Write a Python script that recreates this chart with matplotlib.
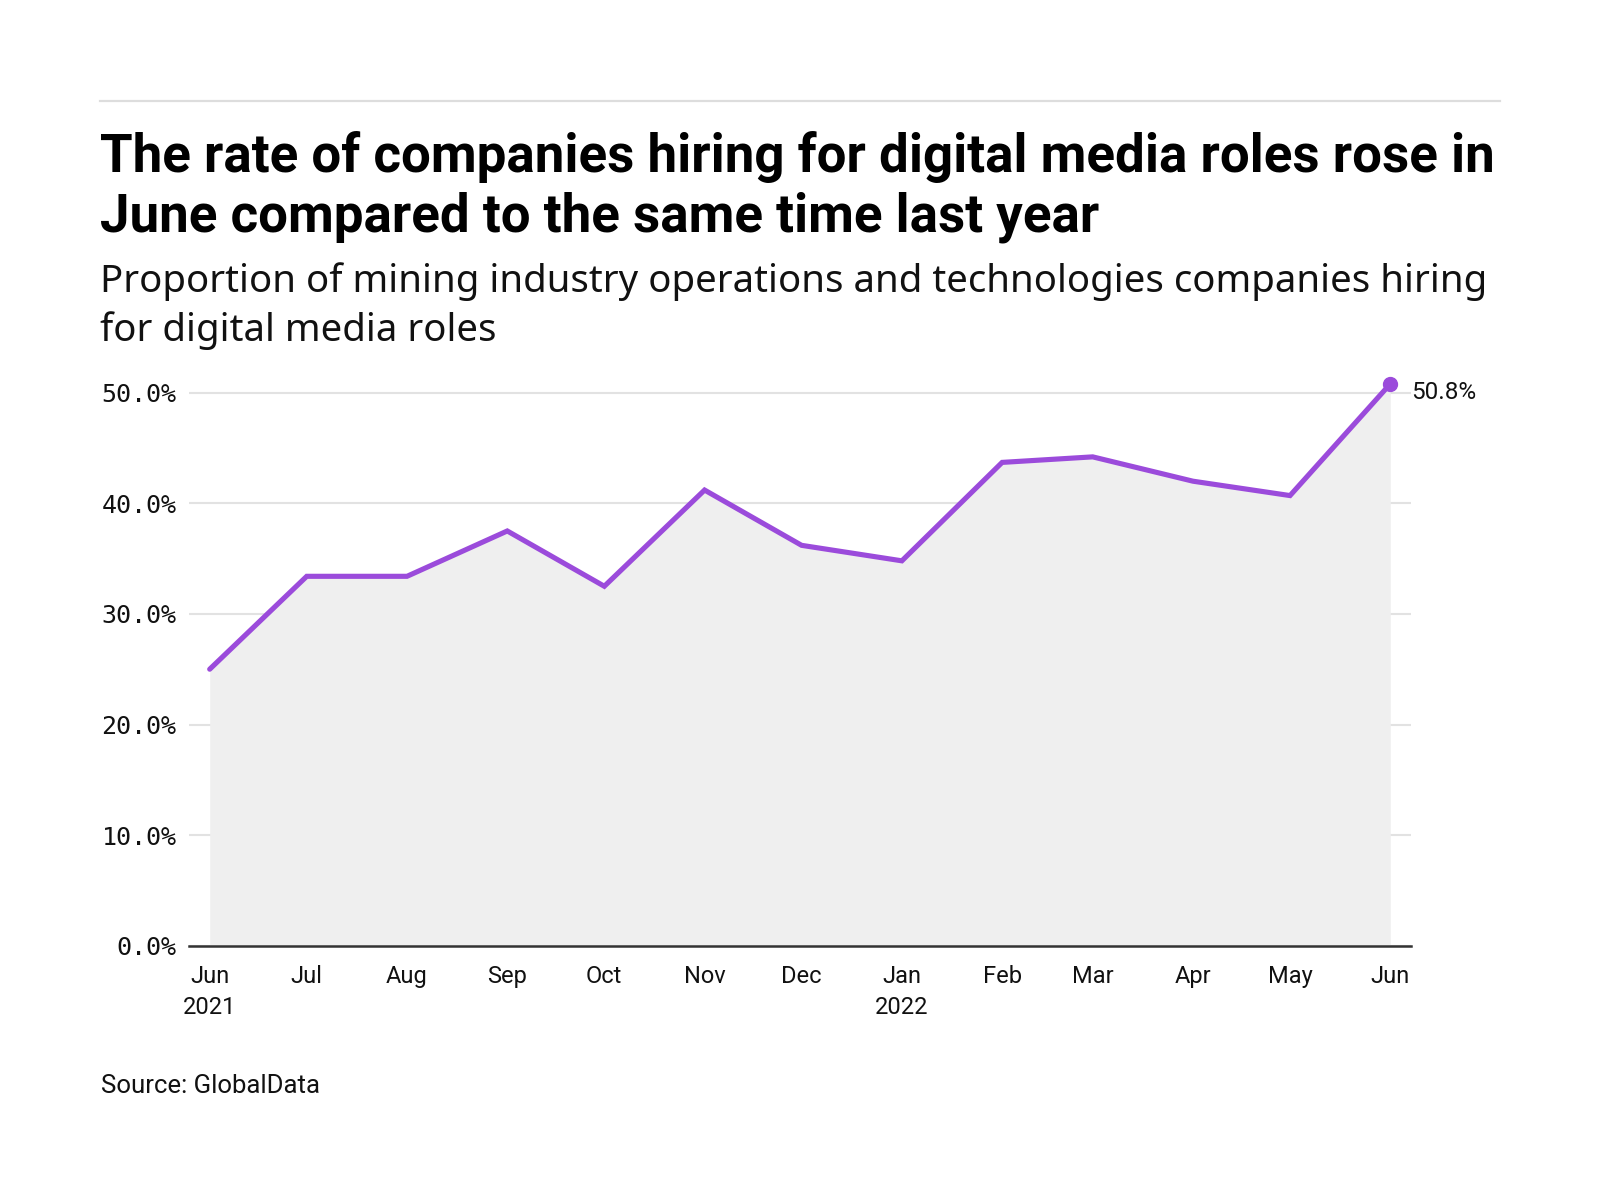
import numpy as np
import matplotlib
matplotlib.use("Agg")
import matplotlib.pyplot as plt
import matplotlib.dates as mdates
from matplotlib.lines import Line2D

# datos
months = np.array(['2021-06-01', '2021-07-01', '2021-08-01', '2021-09-01', '2021-10-01',
                   '2021-11-01', '2021-12-01', '2022-01-01', '2022-02-01', '2022-03-01',
                   '2022-04-01', '2022-05-01', '2022-06-01'], dtype='datetime64[D]')
share = [25.0, 33.4, 33.4, 37.5, 32.5, 41.2, 36.2, 34.8, 43.7, 44.2, 42.0, 40.7, 50.8]
tick_labels = ['Jun\n2021', 'Jul', 'Aug', 'Sep', 'Oct', 'Nov', 'Dec', 'Jan\n2022',
               'Feb', 'Mar', 'Apr', 'May', 'Jun']
y_ticks = [0, 10, 20, 30, 40, 50]

title_lines = ['The rate of companies hiring for digital media roles rose in',
               'June compared to the same time last year']
subtitle_lines = ['Proportion of mining industry operations and technologies companies hiring',
                  'for digital media roles']
source = 'Source: GlobalData'

purple = '#9b4bdb'
sans = ['Noto Sans', 'DejaVu Sans']
W, H = 1600, 1200

fig = plt.figure(figsize=(16, 12), dpi=100)
fig.patch.set_facecolor('white')

ax = fig.add_axes([189 / W, 1 - 945.7 / H, (1411 - 189) / W, (945.7 - 370.6) / H])
x = mdates.date2num(months)

ax.fill_between(x, 0, share, color='#efefef', lw=0, zorder=1)
ax.plot(x, share, color=purple, lw=3.7, solid_capstyle='round',
        solid_joinstyle='miter', zorder=3, clip_on=False)
ax.plot(x[-1], share[-1], 'o', color=purple, ms=10, zorder=4, clip_on=False)
ax.annotate(f'{share[-1]:.1f}%', (x[-1], share[-1]), xytext=(15, -6),
            textcoords='offset points', ha='left', va='center',
            fontsize=17.5, family=['Roboto', 'DejaVu Sans'], color='#111111')

ax.set_xlim(x[0] - 6.4, x[-1] + 6.4)
ax.set_ylim(0, 52)
ax.set_xticks(x)
ax.set_xticklabels(tick_labels, family=['Roboto', 'DejaVu Sans'], fontsize=17,
                   linespacing=1.45)
ax.set_yticks(y_ticks)
ax.set_yticklabels([f'{v:.1f}%' for v in y_ticks], family='DejaVu Sans Mono', fontsize=18)
ax.tick_params(axis='both', length=0, colors='#111111')
ax.tick_params(axis='x', pad=14)
ax.tick_params(axis='y', pad=9)
ax.grid(axis='y', color='#e2e2e2', lw=1.5, zorder=0)
ax.set_axisbelow(True)
for s in ['top', 'right', 'left']:
    ax.spines[s].set_visible(False)
ax.spines['bottom'].set_color('#333333')
ax.spines['bottom'].set_linewidth(1.8)
ax.spines['bottom'].set_zorder(5)
ax.set_facecolor('none')

# linea gris de arriba
fig.add_artist(Line2D([100 / W, 1500 / W], [1 - 100.7 / H] * 2, color='#dddddd', lw=1.6))

renderer = fig.canvas.get_renderer()


def fit(texts, target_px):
    # ajusta el tamano para que la primera linea mida target_px
    t0 = texts[0]
    w = t0.get_window_extent(renderer).width
    size = t0.get_fontsize() * target_px / w
    for t in texts:
        t.set_fontsize(size)


tl = [fig.text(100 / W, 1 - b / H, s, family=['Roboto', 'DejaVu Sans'], weight='bold',
               fontsize=38, va='baseline', color='#000000')
      for s, b in zip(title_lines, [171.7, 231.7])]
fit(tl, 1393)
sl = [fig.text(100 / W, 1 - b / H, s, family=sans, fontsize=28,
               va='baseline', color='#111111')
      for s, b in zip(subtitle_lines, [292, 341])]
fit(sl, 1383)

fig.text(101 / W, 1 - 1092.7 / H, source, family=['Roboto', 'DejaVu Sans'], fontsize=18.5,
         va='baseline', color='#111111')

fig.savefig('out.png', dpi=100, facecolor='white')
